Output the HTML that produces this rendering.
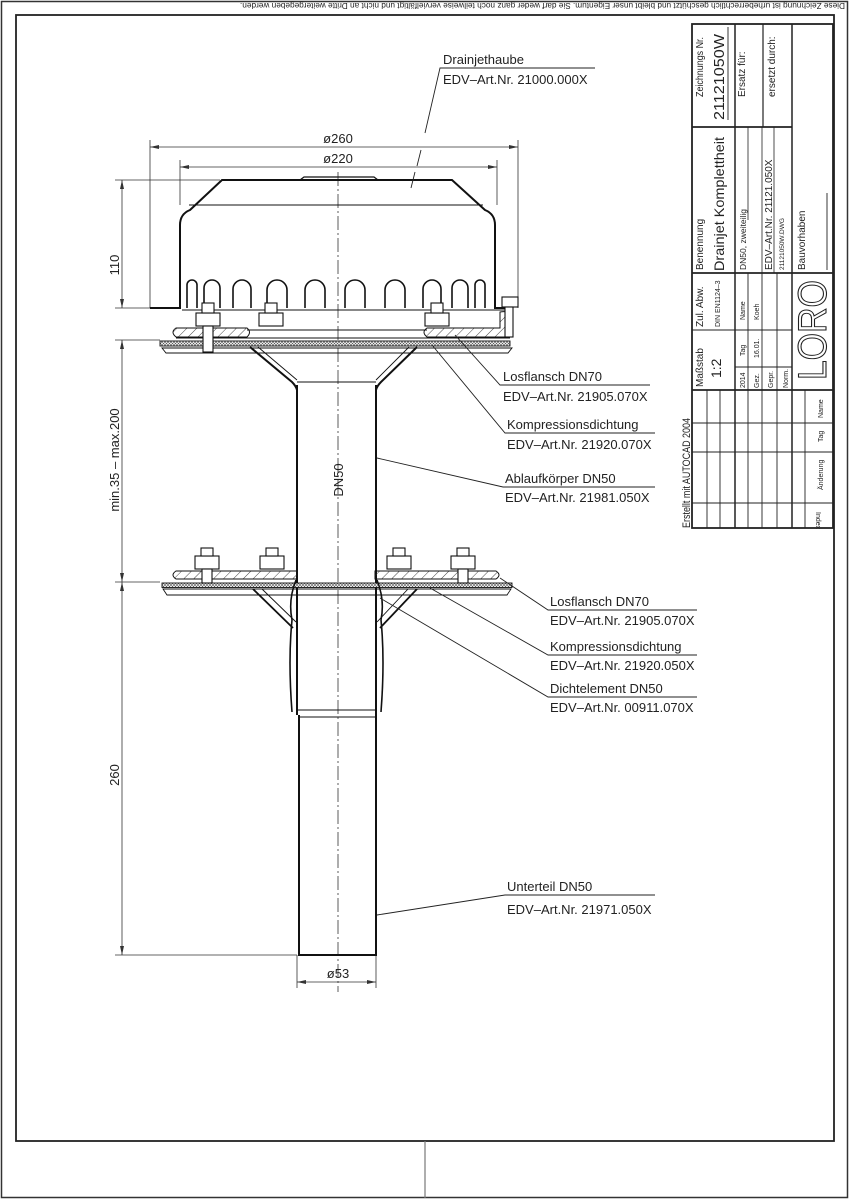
<!DOCTYPE html>
<html><head><meta charset="utf-8"><style>
html,body{margin:0;padding:0;background:#fff;}
svg{display:block;}
text{font-family:"Liberation Sans",sans-serif;fill:#222;}
</style></head><body>
<svg width="850" height="1200" viewBox="0 0 850 1200" xmlns="http://www.w3.org/2000/svg">
<defs>
<pattern id="h" width="7" height="7" patternUnits="userSpaceOnUse" patternTransform="rotate(45)">
<line x1="0" y1="0" x2="0" y2="7" stroke="#333" stroke-width="0.9"/></pattern>
<pattern id="x" width="3" height="3" patternUnits="userSpaceOnUse">
<rect width="3" height="3" fill="#fff"/><path d="M0 0L3 3M3 0L0 3" stroke="#555" stroke-width="0.6"/></pattern>
</defs>
<rect width="850" height="1200" fill="#fff"/>
<rect x="1.5" y="1.5" width="846" height="1196" fill="none" stroke="#333" stroke-width="1.5"/>
<rect x="16" y="15" width="818" height="1126" fill="none" stroke="#222" stroke-width="1.8"/>
<line x1="425" y1="1141" x2="425" y2="1198" stroke="#777" stroke-width="1.2"/>
<text transform="translate(845,5) rotate(180)" font-size="8.3" dominant-baseline="middle" textLength="605" lengthAdjust="spacingAndGlyphs">Diese Zeichnung ist urheberrechtlich geschützt und bleibt unser Eigentum. Sie darf weder ganz noch teilweise vervielfältigt und nicht an Dritte weitergegeben werden.</text>

<g stroke="#222" fill="none">
<rect x="692" y="24" width="141" height="504" stroke-width="1.8"/>
<line x1="735" y1="24" x2="735" y2="528" stroke-width="1.5"/>
<line x1="792" y1="24" x2="792" y2="528" stroke-width="1.5"/>
<line x1="763" y1="24" x2="763" y2="127" stroke-width="1.2"/>
<line x1="692" y1="127" x2="792" y2="127" stroke-width="1.8"/>
<line x1="692" y1="273" x2="833" y2="273" stroke-width="1.8"/>
<line x1="692" y1="390" x2="833" y2="390" stroke-width="1.8"/>
<line x1="692" y1="330" x2="792" y2="330" stroke-width="1"/>
<line x1="735" y1="367" x2="792" y2="367" stroke-width="1"/>
<line x1="748" y1="273" x2="748" y2="528" stroke-width="0.9"/>
<line x1="762" y1="273" x2="762" y2="528" stroke-width="0.9"/>
<line x1="777" y1="273" x2="777" y2="528" stroke-width="0.9"/>
<line x1="707" y1="390" x2="707" y2="528" stroke-width="0.9"/>
<line x1="720" y1="390" x2="720" y2="528" stroke-width="0.9"/>
<line x1="805" y1="390" x2="805" y2="528" stroke-width="0.9"/>
<line x1="692" y1="423" x2="833" y2="423" stroke-width="0.9"/>
<line x1="692" y1="452" x2="833" y2="452" stroke-width="0.9"/>
<line x1="692" y1="503" x2="833" y2="503" stroke-width="0.9"/>
<line x1="728" y1="27" x2="728" y2="120" stroke-width="0.9"/>
<line x1="827" y1="193" x2="827" y2="270" stroke-width="0.9"/>
<line x1="748" y1="127" x2="748" y2="220" stroke-width="0.8"/>
<line x1="762" y1="127" x2="762" y2="273" stroke-width="0.8"/>
<line x1="774" y1="127" x2="774" y2="273" stroke-width="0.8"/>
</g>
<g font-size="10">
<text transform="translate(703,97) rotate(-90)" textLength="60" lengthAdjust="spacingAndGlyphs">Zeichnungs Nr.</text>
<text transform="translate(724,120) rotate(-90)" font-size="15" textLength="86" lengthAdjust="spacingAndGlyphs">21121050W</text>
<text transform="translate(745,97) rotate(-90)">Ersatz für:</text>
<text transform="translate(775,97) rotate(-90)">ersetzt durch:</text>
<text transform="translate(703,270) rotate(-90)">Benennung</text>
<text transform="translate(724,271) rotate(-90)" font-size="14" textLength="134" lengthAdjust="spacingAndGlyphs">Drainjet Komplettheit</text>
<text transform="translate(746,270) rotate(-90)" font-size="8.5">DN50, zweiteilig</text>
<text transform="translate(772,270) rotate(-90)" font-size="10">EDV–Art.Nr. 21121.050X</text>
<text transform="translate(784,270) rotate(-90)" font-size="6.5">21121050W.DWG</text>
<text transform="translate(805,270) rotate(-90)">Bauvorhaben</text>
<text transform="translate(703,387) rotate(-90)">Maßstab</text>
<text transform="translate(721,378) rotate(-90)" font-size="14">1:2</text>
<text transform="translate(703,327) rotate(-90)">Zul. Abw.</text>
<text transform="translate(720,327) rotate(-90)" font-size="7">DIN EN1124–3</text>
<g font-size="7">
<text transform="translate(745,388) rotate(-90)">2014</text>
<text transform="translate(745,356) rotate(-90)">Tag</text>
<text transform="translate(745,320) rotate(-90)">Name</text>
<text transform="translate(759,388) rotate(-90)">Gez.</text>
<text transform="translate(759,358) rotate(-90)">16.01.</text>
<text transform="translate(759,320) rotate(-90)">Koeh</text>
<text transform="translate(773,388) rotate(-90)">Gepr.</text>
<text transform="translate(788,388) rotate(-90)">Norm.</text>
<text transform="translate(823,418) rotate(-90)">Name</text>
<text transform="translate(823,442) rotate(-90)">Tag</text>
<text transform="translate(823,490) rotate(-90)">Änderung</text>
<text transform="translate(816,512) rotate(90)">Index</text>
</g>
<text transform="translate(826,380) rotate(-90)" font-size="40" textLength="100" lengthAdjust="spacingAndGlyphs" style="fill:none;stroke:#222;stroke-width:1.1">LORO</text>
<text transform="translate(690,528) rotate(-90)" font-size="11" textLength="110" lengthAdjust="spacingAndGlyphs">Erstellt mit AUTOCAD 2004</text>
</g>

<line x1="338" y1="172" x2="338" y2="992" stroke="#333" stroke-width="0.8" stroke-dasharray="14,3,2,3"/>

<g stroke="#333" stroke-width="0.8" fill="none">
<line x1="150" y1="140" x2="150" y2="308"/><line x1="518" y1="140" x2="518" y2="308"/>
<line x1="150" y1="147" x2="518" y2="147"/>
<line x1="180" y1="160" x2="180" y2="205"/><line x1="497" y1="160" x2="497" y2="205"/>
<line x1="180" y1="167" x2="497" y2="167"/>
<line x1="115" y1="180" x2="220" y2="180"/>
<line x1="115" y1="308" x2="150" y2="308"/>
<line x1="115" y1="340" x2="160" y2="340"/>
<line x1="115" y1="582" x2="160" y2="582"/>
<line x1="115" y1="955" x2="297" y2="955"/>
<line x1="122" y1="180" x2="122" y2="308"/>
<line x1="122" y1="340" x2="122" y2="582"/>
<line x1="122" y1="582" x2="122" y2="955"/>
<line x1="297" y1="955" x2="297" y2="988"/><line x1="376" y1="955" x2="376" y2="988"/>
<line x1="297" y1="982" x2="376" y2="982"/>
</g>
<g fill="#333">
<path d="M150 147l9-2v4zM518 147l-9-2v4zM180 167l9-2v4zM497 167l-9-2v4z"/>
<path d="M122 180l-2 9h4zM122 308l-2-9h4zM122 340l-2 9h4zM122 582l-2-9h4zM122 582l-2 9h4zM122 955l-2-9h4z"/>
<path d="M297 982l9-2v4zM376 982l-9-2v4z"/>
</g>
<g font-size="13">
<text x="338" y="143" text-anchor="middle">ø260</text>
<text x="338" y="163" text-anchor="middle">ø220</text>
<text x="338" y="978" text-anchor="middle">ø53</text>
<text transform="translate(119,265) rotate(-90)" text-anchor="middle">110</text>
<text transform="translate(119,460) rotate(-90)" text-anchor="middle">min.35 – max.200</text>
<text transform="translate(119,775) rotate(-90)" text-anchor="middle">260</text>
<text transform="translate(343,480) rotate(-90)" text-anchor="middle">DN50</text>
</g>

<g stroke="#111" fill="none">
<path d="M150 308H180V225Q180 214 190 210L222 180H452L485 210Q495 214 495 225V308H505" stroke-width="2"/>
<line x1="189" y1="205" x2="483" y2="205" stroke-width="0.9"/>
<path d="M300 180l4-3h70l4 3" stroke-width="1.2"/>
<line x1="182" y1="310" x2="505" y2="310" stroke-width="1"/>
<g stroke-width="1.6">
<path d="M187 308V285a5 5 0 0 1 10 0V308"/>
<path d="M204 308V288a8 8 0 0 1 16 0V308"/>
<path d="M233 308V289a9 9 0 0 1 18 0V308"/>
<path d="M267 308V290a10 10 0 0 1 20 0V308"/>
<path d="M305 308V290a10 10 0 0 1 20 0V308"/>
<path d="M345 308V290a10 10 0 0 1 20 0V308"/>
<path d="M385 308V290a10 10 0 0 1 20 0V308"/>
<path d="M423 308V289a9 9 0 0 1 18 0V308"/>
<path d="M452 308V288a8 8 0 0 1 16 0V308"/>
<path d="M475 308V285a5 5 0 0 1 10 0V308"/>
</g>
<path d="M176 328H247Q252 332 247 337H176Q170 332 176 328Z" fill="url(#h)" stroke-width="1"/>
<path d="M427 328H500V312Q510 310 513 318V333Q513 337 505 337H427Q421 332 427 328Z" fill="url(#h)" stroke-width="1"/>
<line x1="247" y1="330" x2="427" y2="330" stroke-width="0.9"/>
<line x1="176" y1="338" x2="510" y2="338" stroke-width="0.9"/>
<rect x="160" y="341" width="350" height="5" fill="url(#x)" stroke-width="0.9"/>
<path d="M162 348H512L508 353H166Z" stroke-width="0.9"/>
<path d="M250 347L292 382Q296 386 297 390M417 347L381 382Q377 386 376 390" stroke-width="2"/>
<path d="M258 347L297 380M409 347L376 380" stroke-width="0.9"/>
<path d="M297 385V715M376 385V715" stroke-width="2"/>
<line x1="297" y1="382" x2="376" y2="382" stroke-width="0.9"/>
<g stroke-width="1.1">
<rect x="196" y="313" width="24" height="13" fill="#fff"/><rect x="202" y="303" width="12" height="10" fill="#fff"/><rect x="203" y="326" width="10" height="26" fill="#fff"/>
<rect x="259" y="313" width="24" height="13" fill="#fff"/><rect x="265" y="303" width="12" height="10" fill="#fff"/>
<rect x="425" y="313" width="24" height="13" fill="#fff"/><rect x="431" y="303" width="12" height="10" fill="#fff"/>
<rect x="502" y="297" width="16" height="10" fill="#fff"/><rect x="505" y="307" width="8" height="30" fill="#fff"/>
</g>
<path d="M176 571H297V579H176Q170 575 176 571Z" fill="url(#h)" stroke-width="1"/>
<path d="M375 571H496Q502 575 496 579H375Z" fill="url(#h)" stroke-width="1"/>
<rect x="162" y="583" width="350" height="4.5" fill="url(#x)" stroke-width="0.9"/>
<path d="M163 589H511L507 595H167Z" stroke-width="0.9"/>
<path d="M253 589L293 628M417 589L380 628" stroke-width="1.8"/>
<path d="M262 589L296 622M408 589L377 622" stroke-width="0.9"/>
<path d="M296 580Q288 600 292 620Q288 660 292 712M377 580Q385 600 381 620Q385 660 381 712" stroke-width="1.6"/>
<g stroke-width="1.1">
<rect x="195" y="556" width="24" height="13" fill="#fff"/><rect x="201" y="548" width="12" height="8" fill="#fff"/><rect x="202" y="569" width="10" height="14" fill="#fff"/>
<rect x="260" y="556" width="24" height="13" fill="#fff"/><rect x="266" y="548" width="12" height="8" fill="#fff"/>
<rect x="387" y="556" width="24" height="13" fill="#fff"/><rect x="393" y="548" width="12" height="8" fill="#fff"/>
<rect x="451" y="556" width="24" height="13" fill="#fff"/><rect x="457" y="548" width="12" height="8" fill="#fff"/><rect x="458" y="569" width="10" height="14" fill="#fff"/>
</g>
<line x1="298" y1="710" x2="375" y2="710" stroke-width="0.9"/>
<line x1="298" y1="717" x2="375" y2="717" stroke-width="0.9"/>
<path d="M299 715V955H376V715" stroke-width="2"/>
</g>

<g stroke="#222" stroke-width="0.9" fill="none">
<path d="M595 68H440L425 133M421 150L417 166M415 172L411 188"/>
<path d="M650 385H500L455 335"/>
<path d="M655 433H505L432 345"/>
<path d="M655 487H503L377 458"/>
<path d="M697 610H548L500 578"/>
<path d="M697 655H548L430 588"/>
<path d="M697 697H548L380 598"/>
<path d="M655 895H505L377 915"/>
</g>
<g font-size="13">
<text x="443" y="64">Drainjethaube</text><text x="443" y="84">EDV–Art.Nr. 21000.000X</text>
<text x="503" y="381">Losflansch DN70</text><text x="503" y="401">EDV–Art.Nr. 21905.070X</text>
<text x="507" y="429">Kompressionsdichtung</text><text x="507" y="449">EDV–Art.Nr. 21920.070X</text>
<text x="505" y="483">Ablaufkörper DN50</text><text x="505" y="502">EDV–Art.Nr. 21981.050X</text>
<text x="550" y="606">Losflansch DN70</text><text x="550" y="625">EDV–Art.Nr. 21905.070X</text>
<text x="550" y="651">Kompressionsdichtung</text><text x="550" y="670">EDV–Art.Nr. 21920.050X</text>
<text x="550" y="693">Dichtelement DN50</text><text x="550" y="712">EDV–Art.Nr. 00911.070X</text>
<text x="507" y="891">Unterteil DN50</text><text x="507" y="914">EDV–Art.Nr. 21971.050X</text>
</g>
</svg>
</body></html>
